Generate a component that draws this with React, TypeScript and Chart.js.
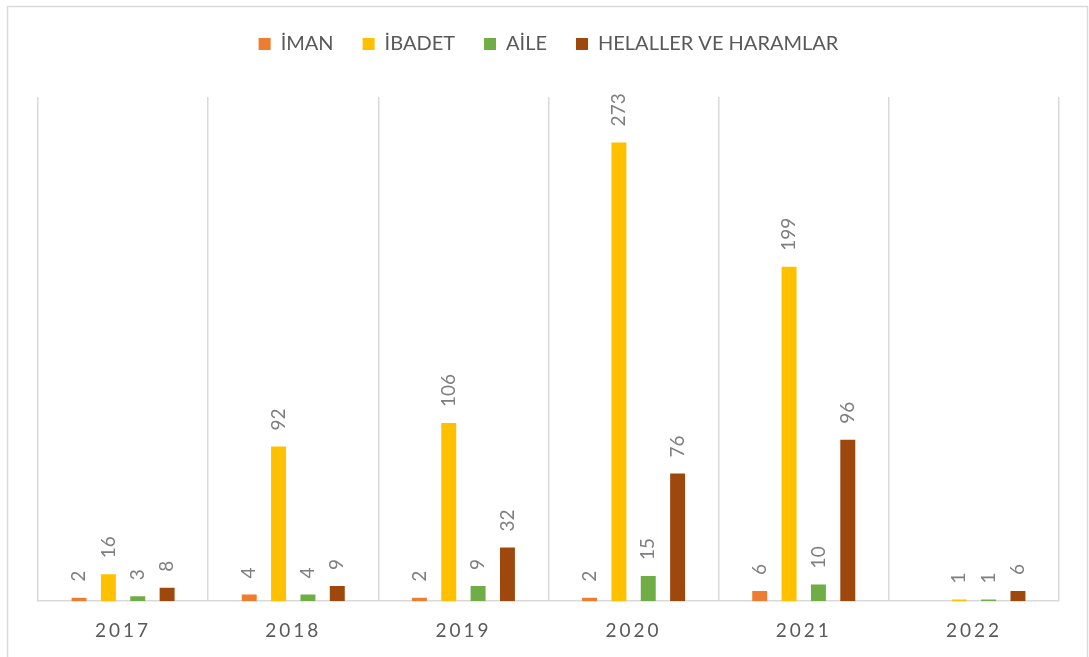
import React, { useEffect, useRef } from "react";
import { Chart, registerables } from "chart.js";

Chart.register(...registerables);

const categories = ["2017", "2018", "2019", "2020", "2021", "2022"];
const seriesNames = ["İMAN", "İBADET", "AİLE", "HELALLER VE HARAMLAR"];
const imanValues = [2, 4, 2, 2, 6, null];
const ibadetValues = [16, 92, 106, 273, 199, 1];
const aileValues = [3, 4, 9, 15, 10, 1];
const helallerValues = [8, 9, 32, 76, 96, 6];
const seriesColors = ["#ED7D31", "#FFC000", "#70AD47", "#9E480E"];

const FONT = "Lato, 'Open Sans', sans-serif";

const outerBorder = {
  id: "outerBorder",
  beforeDraw(chart: any) {
    const ctx = chart.ctx;
    ctx.save();
    ctx.strokeStyle = "#d9d9d9";
    ctx.lineWidth = 1.5;
    ctx.strokeRect(7.5, 6.5, chart.width - 9, chart.height + 10);
    ctx.restore();
  },
};

const legendMargin = {
  id: "legendMargin",
  beforeInit(chart: any) {
    const orig = chart.legend.fit;
    chart.legend.fit = function () {
      orig.bind(chart.legend)();
      this.height += 33;
    };
  },
};

const dataLabels = {
  id: "dataLabels",
  afterDatasetsDraw(chart: any) {
    const ctx = chart.ctx;
    ctx.save();
    ctx.fillStyle = "#7f7f7f";
    ctx.font = `19px ${FONT}`;
    ctx.textAlign = "left";
    ctx.textBaseline = "middle";
    chart.data.datasets.forEach((ds: any, di: number) => {
      const meta = chart.getDatasetMeta(di);
      meta.data.forEach((bar: any, i: number) => {
        const v = ds.data[i];
        if (v === null || v === undefined) return;
        ctx.save();
        ctx.translate(bar.x, bar.y - 16);
        ctx.rotate(-Math.PI / 2);
        ctx.fillText(String(v), 0, 0);
        ctx.restore();
      });
    });
    ctx.restore();
    (ctx as any).letterSpacing = "3px";
  },
  afterDraw(chart: any) {
    (chart.ctx as any).letterSpacing = "0px";
  },
};

export default function App() {
  const ref = useRef<HTMLCanvasElement | null>(null);
  useEffect(() => {
    document.body.style.margin = "0";
    const values = [imanValues, ibadetValues, aileValues, helallerValues];
    const chart = new Chart(ref.current as HTMLCanvasElement, {
      type: "bar",
      data: {
        labels: categories,
        datasets: seriesNames.map((name, k) => ({
          label: name,
          data: values[k],
          backgroundColor: seriesColors[k],
          borderWidth: 0,
          categoryPercentage: 0.69,
          barPercentage: 0.51,
        })),
      },
      options: {
        animation: false,
        responsive: false,
        maintainAspectRatio: false,
        layout: { padding: { top: 5, left: 38, right: 30, bottom: -3 } },
        plugins: {
          legend: {
            position: "top",
            labels: {
              boxWidth: 12,
              boxHeight: 12,
              padding: 29,
              color: "#595959",
              font: { size: 20, family: FONT },
            },
          },
          tooltip: { enabled: false },
        },
        scales: {
          x: {
            grid: {
              display: true,
              offset: true,
              color: "#d9d9d9",
              lineWidth: 1.5,
              drawTicks: false,
            },
            border: { display: true, color: "#d9d9d9", width: 1.5 },
            ticks: {
              color: "#595959",
              font: { size: 19, family: FONT },
              padding: 18,
              z: 1,
            },
          },
          y: { display: false, min: 0, max: 300 },
        },
      },
      plugins: [outerBorder, legendMargin, dataLabels],
    });
    return () => chart.destroy();
  }, []);
  return <canvas ref={ref} width={1089} height={657} style={{ display: "block" }} />;
}
